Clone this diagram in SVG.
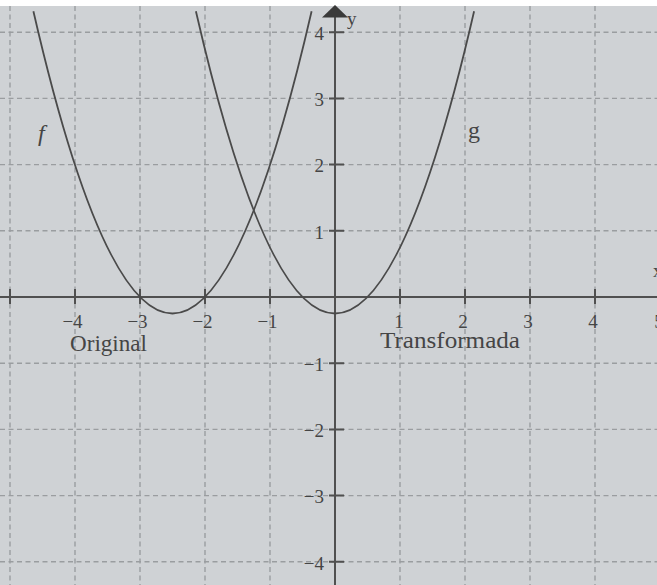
<svg xmlns="http://www.w3.org/2000/svg" width="657" height="585" viewBox="0 0 657 585">
  <style>
    .grid { stroke: #9a9da0; stroke-width: 1.4; stroke-dasharray: 5 3.5; fill: none; }
    .axis { stroke: #505050; stroke-width: 2; fill: none; }
    .curve { stroke: #4a4a4a; stroke-width: 1.8; fill: none; }
    .lbl { font-family: "Liberation Serif", "Times New Roman", serif; font-size: 19px; fill: #454545; }
    .big { font-family: "Liberation Serif", "Times New Roman", serif; font-size: 24px; fill: #454545; }
  </style>
  <rect x="0" y="0" width="657" height="585" fill="#ffffff"/>
  <rect x="0" y="6" width="657" height="579" fill="#cfd2d5"/>

  <g id="grid">
    <line class="grid" x1="10" y1="6" x2="10" y2="585"/>
    <line class="grid" x1="75" y1="6" x2="75" y2="585"/>
    <line class="grid" x1="140" y1="6" x2="140" y2="585"/>
    <line class="grid" x1="205" y1="6" x2="205" y2="585"/>
    <line class="grid" x1="270" y1="6" x2="270" y2="585"/>
    <line class="grid" x1="400" y1="6" x2="400" y2="585"/>
    <line class="grid" x1="465" y1="6" x2="465" y2="585"/>
    <line class="grid" x1="530" y1="6" x2="530" y2="585"/>
    <line class="grid" x1="595" y1="6" x2="595" y2="585"/>
    <line class="grid" x1="0" y1="32.2" x2="657" y2="32.2"/>
    <line class="grid" x1="0" y1="98.4" x2="657" y2="98.4"/>
    <line class="grid" x1="0" y1="164.6" x2="657" y2="164.6"/>
    <line class="grid" x1="0" y1="230.8" x2="657" y2="230.8"/>
    <line class="grid" x1="0" y1="363.2" x2="657" y2="363.2"/>
    <line class="grid" x1="0" y1="429.4" x2="657" y2="429.4"/>
    <line class="grid" x1="0" y1="495.6" x2="657" y2="495.6"/>
    <line class="grid" x1="0" y1="561.8" x2="657" y2="561.8"/>
  </g>

  <g id="axes">
    <line class="axis" x1="0" y1="297" x2="657" y2="297"/>
    <line class="axis" x1="335" y1="16" x2="335" y2="585"/>
    <polygon points="335,5 322,17.5 348,17.5" fill="#3a3a3a"/>
    <!-- x ticks -->
    <path class="axis" d="M10,289V304 M75,289V304 M140,289V304 M205,289V304 M270,289V304 M400,289V304 M465,289V304 M530,289V304 M595,289V304"/>
    <!-- y ticks -->
    <path class="axis" d="M329,32.2H344 M329,98.4H344 M329,164.6H344 M329,230.8H344 M329,363.2H344 M329,429.4H344 M329,495.6H344 M329,561.8H344"/>
  </g>

  <g id="curves">
    <path id="f" class="curve" d="M33.4,11.2 Q172.5,615.8 311.6,11.2"/>
    <path id="g" class="curve" d="M195.9,11.2 Q335,615.8 474.1,11.2"/>
  </g>

  <g id="x-labels" class="lbl" text-anchor="middle">
    <text x="72.5" y="328">−4</text>
    <text x="137.5" y="328">−3</text>
    <text x="202.5" y="328">−2</text>
    <text x="267.5" y="328">−1</text>
    <text x="399" y="328">1</text>
    <text x="463" y="328">2</text>
    <text x="528" y="328">3</text>
    <text x="593" y="328">4</text>
    <text x="659" y="328">5</text>
  </g>
  <g id="y-labels" class="lbl" text-anchor="end">
    <text x="324" y="40">4</text>
    <text x="324" y="106">3</text>
    <text x="324" y="172">2</text>
    <text x="324" y="238.5">1</text>
    <text x="324" y="371">−1</text>
    <text x="324" y="437">−2</text>
    <text x="324" y="503">−3</text>
    <text x="324" y="569.5">−4</text>
  </g>
  <g id="axis-names" class="lbl">
    <text x="347" y="25">y</text>
    <text x="653" y="277">x</text>
  </g>
  <g id="curve-names">
    <text x="38" y="141" class="big" font-style="italic">f</text>
    <text x="468" y="138" class="big">g</text>
    <text x="70" y="351" class="big" textLength="77" lengthAdjust="spacingAndGlyphs">Original</text>
    <text x="380" y="348" class="big" textLength="140" lengthAdjust="spacingAndGlyphs">Transformada</text>
  </g>
</svg>
